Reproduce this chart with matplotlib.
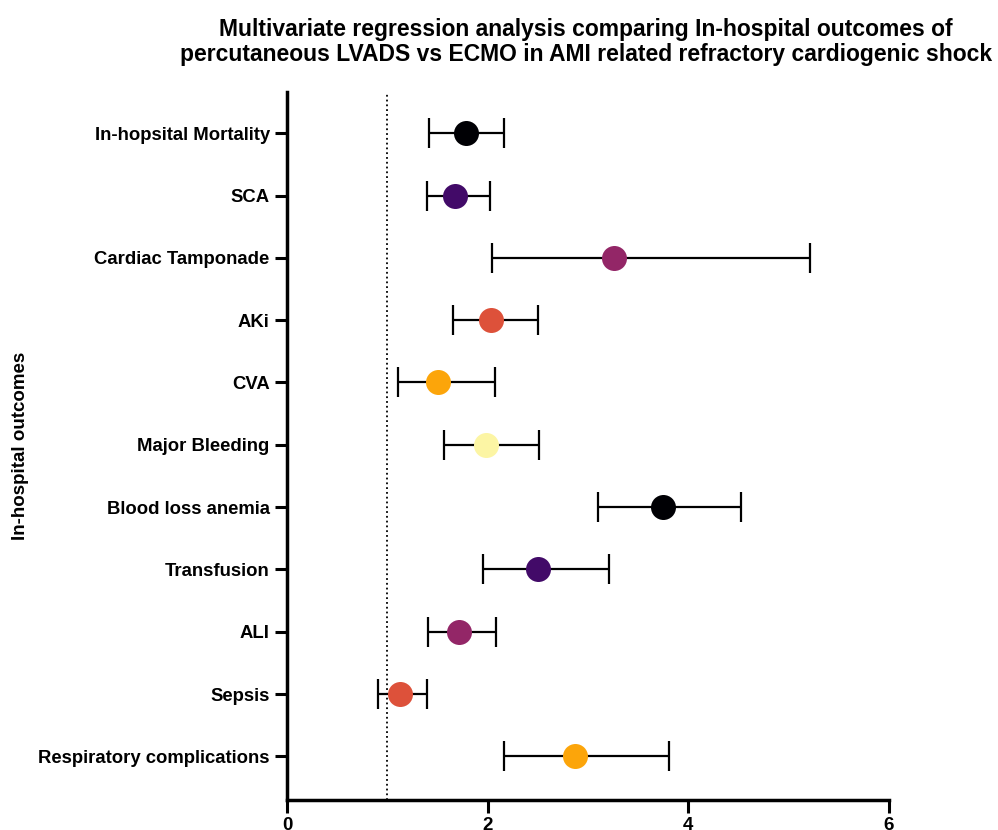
import numpy as np
import matplotlib
matplotlib.use("Agg")
import matplotlib.pyplot as plt

plt.rcParams['font.family'] = ['Liberation Sans', 'DejaVu Sans']
plt.rcParams['font.weight'] = 'bold'

outcomes = ["In-hopsital Mortality", "SCA", "Cardiac Tamponade", "AKi", "CVA",
            "Major Bleeding", "Blood loss anemia", "Transfusion", "ALI", "Sepsis",
            "Respiratory complications"]
odds = [1.78, 1.67, 3.26, 2.03, 1.51, 1.98, 3.75, 2.50, 1.71, 1.13, 2.87]
ci_low = [1.42, 1.40, 2.04, 1.65, 1.11, 1.57, 3.10, 1.95, 1.41, 0.91, 2.16]
ci_high = [2.16, 2.02, 5.21, 2.50, 2.07, 2.51, 4.53, 3.21, 2.08, 1.40, 3.81]

colors = ["#000004", "#420a68", "#932667", "#dd513a", "#fca50a", "#fcf5a4"]

fig = plt.figure(figsize=(9.98, 8.3), dpi=100)
ax = fig.add_axes([0.2876, 0.0361, 0.603, 0.853])

y = np.arange(len(outcomes))
odds_a = np.array(odds)
xerr = [odds_a - np.array(ci_low), np.array(ci_high) - odds_a]
ax.errorbar(odds, y, xerr=xerr, fmt='none', ecolor='black',
            elinewidth=1.6, capsize=10.5, capthick=1.6, zorder=2)
for i in range(len(outcomes)):
    ax.plot(odds[i], y[i], 'o', color=colors[i % len(colors)], ms=18,
            mew=0, zorder=3)

ax.axvline(1, color='black', ls=':', lw=1.3, zorder=1)

ax.set_xlim(0, 6)
ax.set_ylim(len(outcomes) - 0.3, -0.66)
ax.set_xticks([0, 2, 4, 6])
ax.set_yticks(y)
ax.set_yticklabels(outcomes)
ax.tick_params(axis='y', width=2.2, length=9, labelsize=13.3)
ax.tick_params(axis='x', width=2.2, length=9, labelsize=13.5, pad=3)

for s in ['top', 'right']:
    ax.spines[s].set_visible(False)
for s in ['left', 'bottom']:
    ax.spines[s].set_linewidth(2.5)

ax.set_ylabel("In-hospital outcomes", fontsize=13.5, fontweight='bold')
ax.yaxis.set_label_coords(-0.428, 0.5)

fig.text(0.587, 0.978,
         "Multivariate regression analysis comparing In-hospital outcomes of\n"
         "percutaneous LVADS vs ECMO in AMI related refractory cardiogenic shock",
         ha='center', va='top', fontsize=16.5, fontweight='bold', linespacing=1.08)

fig.savefig("out.png", dpi=100)
